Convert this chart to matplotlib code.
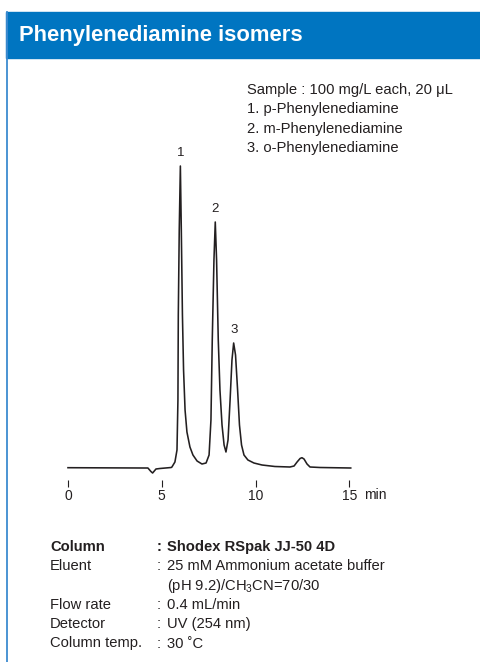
import matplotlib
matplotlib.use("Agg")
import matplotlib.pyplot as plt
from matplotlib.patches import Rectangle
from matplotlib.lines import Line2D

plt.rcParams['font.family'] = ['Liberation Sans', 'DejaVu Sans']
plt.rcParams['mathtext.fontset'] = 'custom'
plt.rcParams['mathtext.rm'] = 'Liberation Sans'
plt.rcParams['mathtext.it'] = 'Liberation Sans:italic'
plt.rcParams['mathtext.bf'] = 'Liberation Sans:bold'

# ---- data ----
title = "Phenylenediamine isomers"
trace_time = [0.0, 4.0, 4.26, 4.42, 4.51, 4.60, 4.69, 4.90, 5.5, 5.54, 5.70, 5.81,
              5.86, 5.88, 5.93, 5.99, 6.04, 6.10, 6.16, 6.24, 6.34, 6.50, 6.66,
              6.88, 7.14, 7.36, 7.52, 7.62, 7.69, 7.78, 7.85, 7.92, 8.01, 8.10,
              8.21, 8.32, 8.42, 8.53, 8.64, 8.74, 8.83, 8.93, 9.04, 9.14, 9.25,
              9.38, 9.59, 9.91, 10.34, 11.03, 11.83, 12.05, 12.21, 12.37, 12.47,
              12.58, 12.74, 12.90, 13.43, 15.07]
trace_signal = [0.3, 0.0, 0.0, -3.5, -5.0, -3.0, -1.0, -0.5, 0.5, 1.0, 6.0, 18.0,
                68.0, 153.0, 238.0, 302.0, 238.0, 153.0, 98.0, 58.0, 36.0, 21.0, 13.0,
                7.0, 4.0, 5.0, 13.0, 48.0, 128.0, 208.0, 246.0, 208.0, 128.0, 78.0,
                43.0, 23.0, 16.0, 28.0, 68.0, 108.0, 125.0, 113.0, 78.0, 43.0, 23.0,
                13.0, 8.0, 5.0, 3.0, 1.5, 1.0, 2.0, 6.0, 9.5, 10.3,
                9.0, 4.0, 1.0, 0.5, 0.0]
peak_labels = ["1", "2", "3"]
peak_times = [5.99, 7.85, 8.83]
peak_heights = [302.0, 246.0, 125.0]
x_ticks = [0, 5, 10, 15]
x_unit = "min"
sample_lines = ["Sample : 100 mg/L each, 20 μL",
                "1. p-Phenylenediamine",
                "2. m-Phenylenediamine",
                "3. o-Phenylenediamine"]
cond_names = ["Column", "Eluent", "", "Flow rate", "Detector", "Column temp."]
cond_values = ["Shodex RSpak JJ-50 4D",
               "25 mM Ammonium acetate buffer",
               r"(pH 9.2)/CH$_\mathrm{3}$CN=70/30",
               "0.4 mL/min",
               "UV (254 nm)",
               "30 ˚C"]

W, H = 480, 662
TXT = '#231f20'
BLUE = '#0075C1'
FS = 10.6

fig = plt.figure(figsize=(W / 100, H / 100), dpi=100)


def fx(x):
    return x / W


def fy(y):
    return 1 - y / H


# header bar and frame line
fig.patches.append(Rectangle((fx(6), fy(58)), fx(474), 46 / H,
                             transform=fig.transFigure, color=BLUE, zorder=0))
fig.lines.append(Line2D([fx(6.5), fx(6.5)], [fy(12), fy(662)],
                        transform=fig.transFigure, color='#3D8BD0', lw=1.3))
fig.text(fx(19), fy(36), title, color='white', fontsize=15.8,
         fontweight='bold', ha='left', va='center')

# chromatogram axes
ax = fig.add_axes([fx(58.6), fy(480), 300.2 / W, (480 - 148) / H])
ax.plot(trace_time, trace_signal, color=TXT, lw=1.15, solid_joinstyle='round')
ax.set_xlim(-0.5, 15.5)
ax.set_ylim(-12, 320)
for s in ax.spines.values():
    s.set_visible(False)
ax.set_yticks([])
ax.set_xticks(x_ticks)
ax.set_xticklabels([str(t) for t in x_ticks])
ax.tick_params(axis='x', direction='out', length=5, width=0.8, color=TXT,
               labelsize=10, labelcolor=TXT, pad=1.5)
ax.patch.set_alpha(0)

for lab, t, h in zip(peak_labels, peak_times, peak_heights):
    ax.annotate(lab, (t, h), xytext=(0, 5), textcoords='offset points',
                ha='center', va='bottom', fontsize=9.5, color=TXT)

fig.text(fx(364), fy(495), x_unit, fontsize=10, color=TXT,
         ha='left', va='center')

# sample legend
for i, line in enumerate(sample_lines):
    fig.text(fx(247), fy(90 + i * 19.3), line, fontsize=FS, color=TXT,
             ha='left', va='center')

# conditions
y0 = 547
for i, (n, v) in enumerate(zip(cond_names, cond_values)):
    y = y0 + i * 19.3
    bold = 'bold' if i == 0 else 'normal'
    if n:
        fig.text(fx(50), fy(y), n, fontsize=FS, color=TXT, ha='left',
                 va='center', fontweight=bold)
        fig.text(fx(157), fy(y), ":", fontsize=FS, color=TXT, ha='left',
                 va='center', fontweight=bold)
    fig.text(fx(167), fy(y), v, fontsize=FS, color=TXT, ha='left',
             va='center', fontweight=bold)

fig.savefig("out.png", dpi=100)
